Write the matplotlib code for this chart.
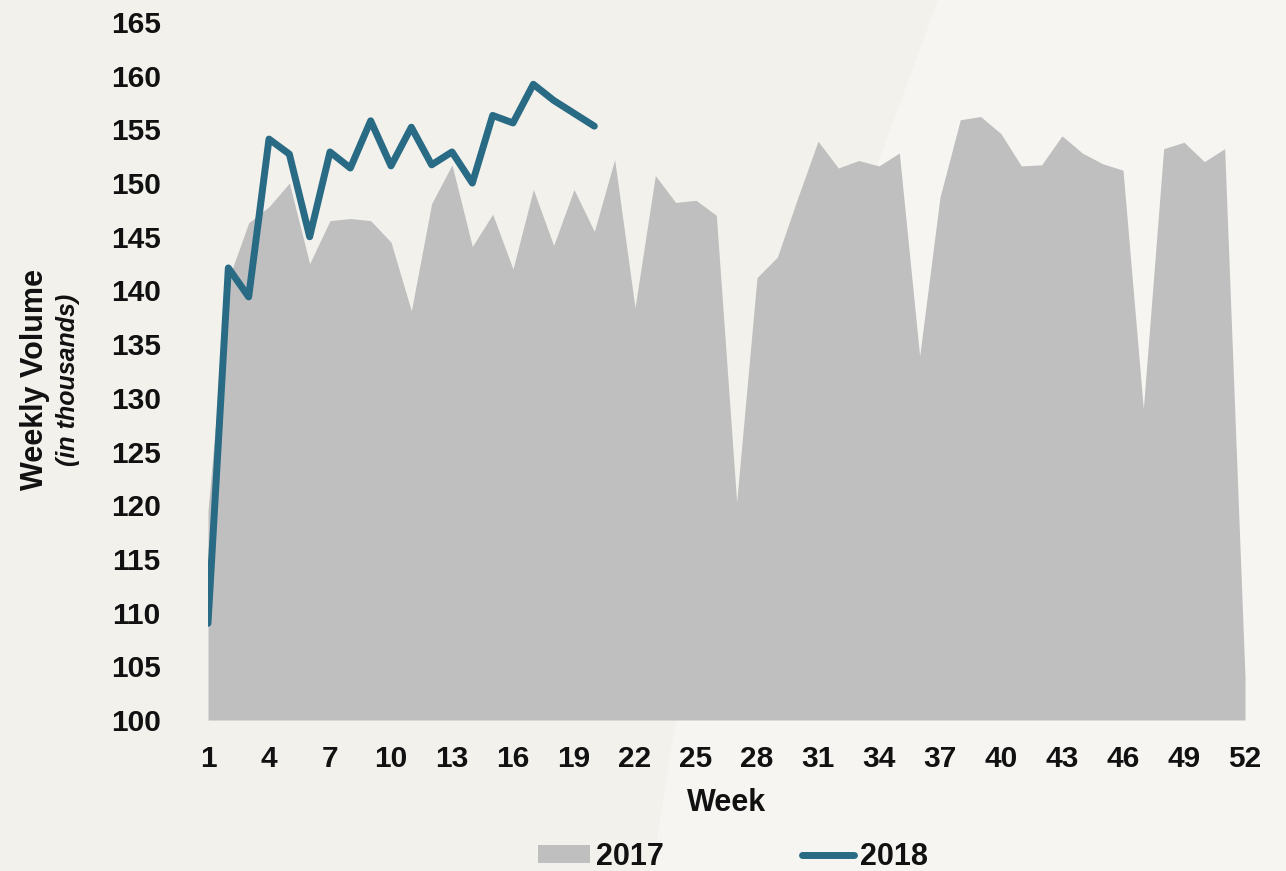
import matplotlib
matplotlib.use("Agg")
import matplotlib.pyplot as plt
from matplotlib.patches import Polygon, Patch
from matplotlib.lines import Line2D

plt.rcParams['font.family'] = ['Liberation Sans', 'DejaVu Sans']

weeks_2017 = list(range(1, 53))
volume_2017 = [119.5, 141.0, 146.3, 147.8, 150.0, 142.5, 146.5, 146.7, 146.5, 144.5,
               138.1, 148.1, 151.7, 144.1, 147.1, 142.0, 149.4, 144.2, 149.4, 145.5,
               152.2, 138.4, 150.7, 148.2, 148.4, 147.0, 120.3, 141.2, 143.1, 148.6,
               153.9, 151.4, 152.1, 151.6, 152.8, 133.9, 148.7, 155.9, 156.2, 154.6,
               151.6, 151.7, 154.4, 152.8, 151.8, 151.2, 129.0, 153.2, 153.8, 152.0,
               153.2, 104.0]
weeks_2018 = list(range(1, 21))
volume_2018 = [109.0, 142.1, 139.4, 154.1, 152.7, 145.0, 152.9, 151.4, 155.8, 151.6,
               155.2, 151.7, 152.9, 150.0, 156.3, 155.6, 159.2, 157.7, 156.5, 155.3]
x_ticks = list(range(1, 53, 3))
y_ticks = list(range(100, 166, 5))

W, H = 1286, 871
fig = plt.figure(figsize=(W / 100, H / 100), dpi=100)
fig.patch.set_facecolor('#f6f5f1')
# darker left background region (decorative diagonal split)
pts = [(0, 0), (938, 0), (880, 157), (674, 730), (652, 871), (0, 871)]
poly = Polygon([(x / W, 1 - y / H) for x, y in pts], closed=True,
               transform=fig.transFigure, facecolor='#f2f1ec', edgecolor='none', zorder=0)
fig.add_artist(poly)

ax = fig.add_axes([208 / W, 1 - 720 / H, (1245 - 208) / W, (720 - 22) / H])
ax.set_facecolor('none')
grey = '#bfbfbf'
blue = '#296a85'
ax.fill_between(weeks_2017, 100, volume_2017, color=grey, linewidth=0, zorder=1)
ax.plot(weeks_2018, volume_2018, color=blue, linewidth=5, solid_capstyle='round',
        solid_joinstyle='round', zorder=2)
ax.set_xlim(1, 52)
ax.set_ylim(100, 165)
ax.set_xticks(x_ticks)
ax.set_yticks(y_ticks)
for s in ax.spines.values():
    s.set_visible(False)
ax.tick_params(axis='both', length=0, labelsize=21.5, colors='#111111')
ax.tick_params(axis='y', pad=34)
ax.tick_params(axis='x', pad=18)
for lab in ax.get_xticklabels() + ax.get_yticklabels():
    lab.set_fontweight('bold')

fig.text(727 / W, 1 - 803 / H, 'Week', ha='center', va='center', fontsize=22,
         fontweight='bold', color='#111111')
fig.text(35 / W, 1 - 380 / H, 'Weekly Volume', ha='center', va='center', rotation=90,
         fontsize=22, fontweight='bold', color='#111111')
fig.text(68 / W, 1 - 380 / H, '(in thousands)', ha='center', va='center', rotation=90,
         fontsize=18, fontweight='bold', fontstyle='italic', color='#111111')

handles = [Patch(facecolor=grey, edgecolor='none', label='2017'),
           Line2D([], [], color=blue, linewidth=5, solid_capstyle='round', label='2018')]
leg = fig.legend(handles=handles, loc='center', bbox_to_anchor=(733 / W, 1 - 857 / H),
                 ncol=2, frameon=False, handlelength=1.7, handleheight=0.55,
                 handletextpad=0.2, columnspacing=4.5,
                 prop={'size': 22, 'weight': 'bold'})
for t in leg.get_texts():
    t.set_color('#111111')

fig.savefig('out.png', dpi=100, facecolor=fig.get_facecolor())
